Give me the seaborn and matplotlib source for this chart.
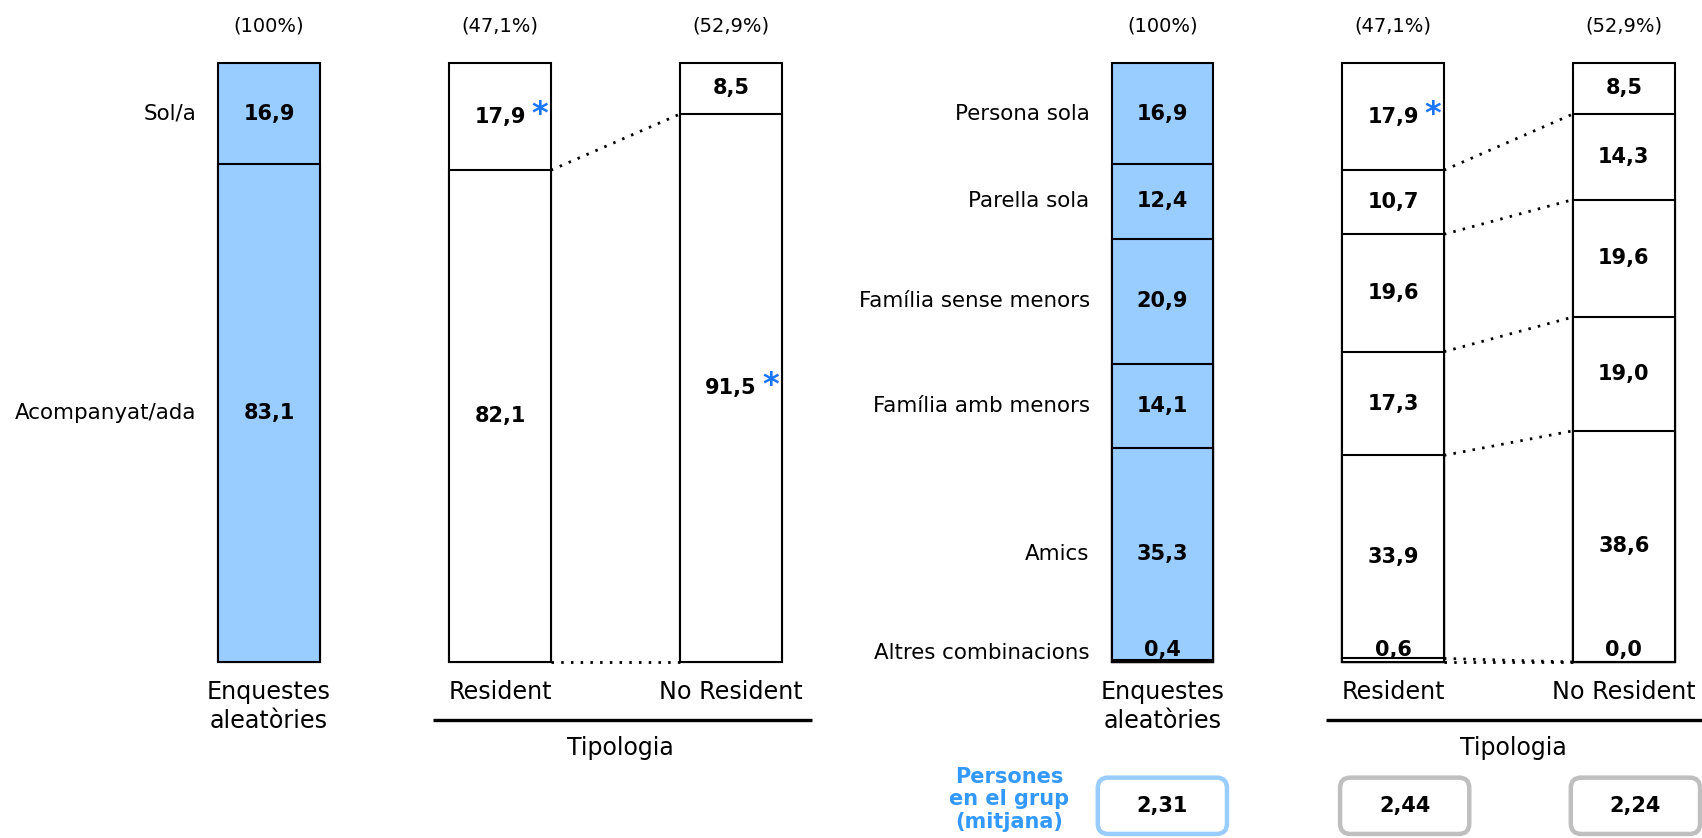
import pandas as pd
import matplotlib.pyplot as plt
import seaborn as sns
from matplotlib.patches import FancyBboxPatch

groups = ["Enquestes\naleatòries", "Resident", "No Resident"]
shares = ["(100%)", "(47,1%)", "(52,9%)"]

left_rows = ["Sol/a", "Acompanyat/ada"]
left_enq = [16.9, 83.1]
left_res = [17.9, 82.1]
left_nores = [8.5, 91.5]
left_stars = [(1, 0), (2, 1)]  # (group, row) with blue asterisk

right_rows = ["Persona sola", "Parella sola", "Família sense menors",
              "Família amb menors", "Amics", "Altres combinacions"]
right_enq = [16.9, 12.4, 20.9, 14.1, 35.3, 0.4]
right_res = [17.9, 10.7, 19.6, 17.3, 33.9, 0.6]
right_nores = [8.5, 14.3, 19.6, 19.0, 38.6, 0.0]
right_stars = [(1, 0)]

group_size = ["2,31", "2,44", "2,24"]

BLUE = "#99CCFF"
STAR = "#1A75FF"
pal = {groups[0]: BLUE, groups[1]: "white", groups[2]: "white"}
W = 0.44


def fmt(v):
    return f"{v:.1f}".replace(".", ",")


def draw_panel(ax, rows, series, stars):
    recs = []
    for g, vals in zip(groups, series):
        top = 100.0
        for r, v in zip(rows, vals):
            recs.append({"group": g, "row": r, "value": v, "top": top, "bottom": top - v})
            top -= v
    df = pd.DataFrame(recs)

    # overlapping cumulative bars, tallest first
    for r in rows:
        sub = df[df["row"] == r]
        sns.barplot(data=sub, x="group", y="top", hue="group", order=groups,
                    hue_order=groups, palette=pal, edgecolor="black",
                    linewidth=1.5, width=W, errorbar=None, legend=False,
                    saturation=1, ax=ax)
    for p in ax.patches:
        p.set_clip_on(False)

    ax.set_ylim(0, 100)
    ax.axis("off")

    # value labels
    for gi, g in enumerate(groups):
        sub = df[df["group"] == g]
        for ri, (_, rec) in enumerate(sub.iterrows()):
            y = max(rec["bottom"] + rec["value"] / 2, 2.0)
            t = ax.text(gi, y, fmt(rec["value"]), ha="center", va="center",
                        fontsize=15, fontweight="bold")
            if (gi, ri) in stars:
                ax.annotate("*", xy=(1, 0.5), xycoords=t, xytext=(4, 1.5),
                            textcoords="offset points", ha="left", va="center",
                            fontsize=23, color=STAR, fontweight="bold")

    # row labels, aligned with the first bar
    enq = df[df["group"] == groups[0]]
    for _, rec in enq.iterrows():
        y = max(rec["bottom"] + rec["value"] / 2, 1.5)
        ax.text(-W / 2 - 0.095, y, rec["row"], ha="right", va="center", fontsize=15.4)

    # group labels and shares
    for gi, g in enumerate(groups):
        ax.text(gi, -3.0, g, ha="center", va="top", fontsize=17.2, linespacing=1.24)
        ax.text(gi, 106.2, shares[gi], ha="center", va="center", fontsize=14)

    # dotted connectors between Resident and No Resident
    res = df[df["group"] == groups[1]].sort_values("bottom")["bottom"].tolist()
    nores = df[df["group"] == groups[2]].sort_values("bottom")["bottom"].tolist()
    for y1, y2 in zip(res, nores):
        ax.plot([1 + W / 2, 2 - W / 2], [y1, y2], color="black", lw=2,
                linestyle=(0, (0.9, 2.6)), clip_on=False)

    # Tipologia bracket
    ax.plot([0.71, 2.35], [-9.7, -9.7], color="black", lw=2.4, clip_on=False,
            solid_capstyle="butt")
    ax.text(1.52, -14.3, "Tipologia", ha="center", va="center", fontsize=17)


sns.set_theme(style="white")
plt.rcParams["font.family"] = ["DejaVu Sans"]
plt.rcParams["text.color"] = "black"

fig = plt.figure(figsize=(17.02, 8.38), dpi=100)
ax1 = fig.add_axes([153.5 / 1702, 0.21, 693 / 1702, 0.7148])
ax2 = fig.add_axes([1047 / 1702, 0.21, 655 / 1702, 0.7148])

draw_panel(ax1, left_rows, [left_enq, left_res, left_nores], left_stars)
draw_panel(ax2, right_rows, [right_enq, right_res, right_nores], right_stars)
ax1.set_xlim(-0.5, 2.5)
ax2.set_xlim(-0.5, -0.5 + 655 / 230.75)

# average group size boxes
edge = [BLUE, "#BFBFBF", "#BFBFBF"]
for gi, val in enumerate(group_size):
    xc = gi + (0.0 if gi == 0 else 0.05)
    box = FancyBboxPatch((xc - 0.28, -28.7), 0.56, 9.4,
                         boxstyle="round,pad=0,rounding_size=0.045",
                         mutation_aspect=38.5, fc="white", ec=edge[gi], lw=3.2,
                         clip_on=False)
    ax2.add_patch(box)
    ax2.text(xc, -24.0, val, ha="center", va="center", fontsize=15, fontweight="bold")

ax2.text(-0.665, -22.9, "Persones\nen el grup\n(mitjana)", ha="center", va="center",
         fontsize=15, fontweight="bold", color="#3399FF", linespacing=1.15)

fig.savefig("out.png", dpi=100)
